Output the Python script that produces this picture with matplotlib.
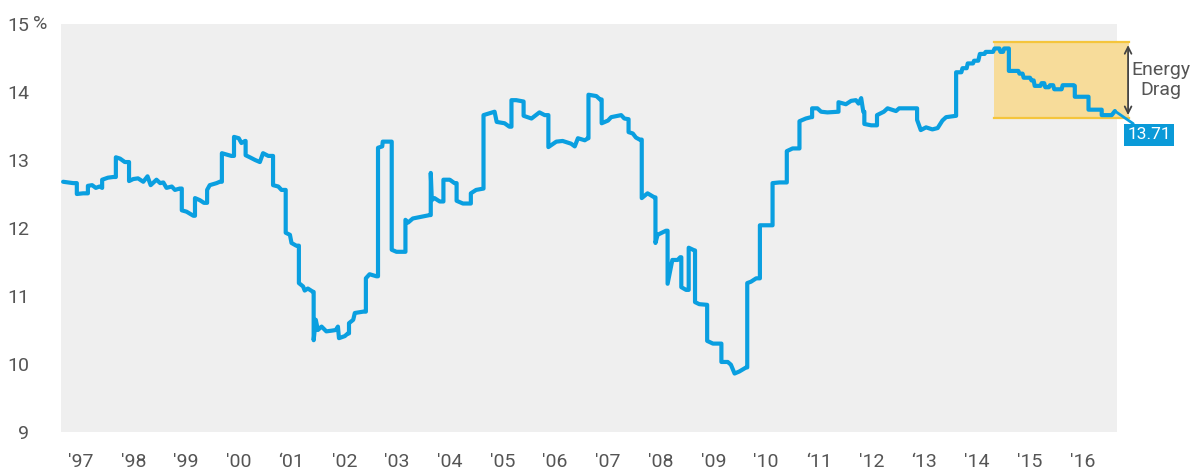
import matplotlib
matplotlib.use("Agg")
import matplotlib.pyplot as plt
from matplotlib.patches import Rectangle

# ---------------- data ----------------
years = [
    1996.67, 1996.86, 1996.93, 1996.93, 1997.05, 1997.14, 1997.14, 1997.22, 1997.29, 1997.36, 1997.41,
    1997.41, 1997.52, 1997.62, 1997.67, 1997.67, 1997.75, 1997.84, 1997.92, 1997.92, 1998.00, 1998.09,
    1998.19, 1998.27, 1998.33, 1998.44, 1998.51, 1998.57, 1998.63, 1998.73, 1998.79, 1998.88, 1998.92,
    1998.92, 1999.01, 1999.14, 1999.17, 1999.17, 1999.26, 1999.34, 1999.40, 1999.40, 1999.45, 1999.58,
    1999.64, 1999.68, 1999.68, 1999.77, 1999.86, 1999.91, 1999.91, 2000.00, 2000.05, 2000.12, 2000.13,
    2000.13, 2000.21, 2000.31, 2000.40, 2000.46, 2000.56, 2000.65, 2000.65, 2000.75, 2000.81, 2000.89,
    2000.89, 2000.97, 2001.00, 2001.09, 2001.14, 2001.14, 2001.22, 2001.25, 2001.31, 2001.41, 2001.42,
    2001.42, 2001.46, 2001.50, 2001.57, 2001.66, 2001.76, 2001.84, 2001.88, 2001.90, 2002.01, 2002.07,
    2002.09, 2002.09, 2002.17, 2002.20, 2002.36, 2002.41, 2002.41, 2002.48, 2002.61, 2002.64, 2002.64,
    2002.72, 2002.73, 2002.89, 2002.90, 2002.90, 2002.99, 2003.11, 2003.16, 2003.16, 2003.21, 2003.30,
    2003.49, 2003.62, 2003.64, 2003.64, 2003.66, 2003.71, 2003.81, 2003.88, 2003.88, 2004.00, 2004.09,
    2004.13, 2004.13, 2004.25, 2004.38, 2004.40, 2004.40, 2004.50, 2004.63, 2004.64, 2004.64, 2004.85,
    2004.89, 2005.04, 2005.13, 2005.17, 2005.17, 2005.26, 2005.39, 2005.40, 2005.40, 2005.55, 2005.70,
    2005.80, 2005.87, 2005.87, 2006.02, 2006.14, 2006.30, 2006.37, 2006.43, 2006.56, 2006.62, 2006.63,
    2006.63, 2006.78, 2006.85, 2006.88, 2006.88, 2007.00, 2007.06, 2007.25, 2007.31, 2007.38, 2007.39,
    2007.39, 2007.47, 2007.53, 2007.60, 2007.64, 2007.64, 2007.75, 2007.88, 2007.90, 2007.90, 2007.94,
    2008.10, 2008.13, 2008.13, 2008.22, 2008.32, 2008.37, 2008.39, 2008.39, 2008.48, 2008.53, 2008.53,
    2008.64, 2008.65, 2008.65, 2008.73, 2008.86, 2008.88, 2008.88, 2008.99, 2009.15, 2009.15, 2009.27,
    2009.33, 2009.40, 2009.49, 2009.62, 2009.64, 2009.64, 2009.71, 2009.81, 2009.88, 2009.88, 2009.96,
    2010.09, 2010.12, 2010.12, 2010.25, 2010.34, 2010.39, 2010.39, 2010.50, 2010.60, 2010.63, 2010.63,
    2010.75, 2010.85, 2010.87, 2010.87, 2010.97, 2011.04, 2011.16, 2011.35, 2011.37, 2011.37, 2011.51,
    2011.61, 2011.70, 2011.75, 2011.80, 2011.84, 2011.86, 2011.86, 2011.99, 2012.09, 2012.10, 2012.10,
    2012.23, 2012.30, 2012.46, 2012.52, 2012.77, 2012.84, 2012.86, 2012.86, 2012.93, 2013.03, 2013.15,
    2013.25, 2013.34, 2013.41, 2013.59, 2013.60, 2013.60, 2013.70, 2013.72, 2013.80, 2013.82, 2013.92,
    2013.94, 2014.02, 2014.05, 2014.14, 2014.16, 2014.30, 2014.33, 2014.42, 2014.44, 2014.49, 2014.51,
    2014.60, 2014.60, 2014.78, 2014.80, 2014.86, 2014.88, 2015.00, 2015.03, 2015.07, 2015.09, 2015.20,
    2015.22, 2015.27, 2015.29, 2015.36, 2015.38, 2015.44, 2015.46, 2015.60, 2015.62, 2015.83, 2015.85,
    2015.85, 2016.09, 2016.11, 2016.11, 2016.34, 2016.36, 2016.36, 2016.55, 2016.61,
]
values = [
    12.68, 12.66, 12.66, 12.50, 12.51, 12.51, 12.62, 12.63, 12.59, 12.61, 12.59,
    12.71, 12.74, 12.75, 12.75, 13.04, 13.02, 12.97, 12.97, 12.69, 12.72, 12.73,
    12.68, 12.76, 12.63, 12.71, 12.66, 12.67, 12.59, 12.61, 12.56, 12.58, 12.58,
    12.26, 12.24, 12.18, 12.18, 12.44, 12.41, 12.37, 12.37, 12.56, 12.63, 12.66,
    12.68, 12.68, 13.10, 13.08, 13.06, 13.06, 13.34, 13.32, 13.25, 13.28, 13.28,
    13.07, 13.04, 13.00, 12.97, 13.10, 13.06, 13.06, 12.63, 12.61, 12.56, 12.56,
    11.93, 11.90, 11.78, 11.74, 11.74, 11.19, 11.14, 11.08, 11.11, 11.06, 11.06,
    10.35, 10.65, 10.50, 10.55, 10.48, 10.49, 10.50, 10.55, 10.38, 10.41, 10.45,
    10.45, 10.60, 10.65, 10.75, 10.77, 10.77, 11.26, 11.32, 11.29, 11.29, 13.18,
    13.20, 13.27, 13.27, 13.27, 11.68, 11.65, 11.65, 11.65, 12.12, 12.08, 12.14,
    12.17, 12.19, 12.19, 12.81, 12.41, 12.44, 12.39, 12.39, 12.71, 12.71, 12.66,
    12.66, 12.40, 12.36, 12.36, 12.36, 12.51, 12.56, 12.58, 12.58, 13.66, 13.71,
    13.56, 13.54, 13.49, 13.49, 13.88, 13.88, 13.86, 13.86, 13.65, 13.61, 13.70,
    13.66, 13.66, 13.19, 13.27, 13.28, 13.24, 13.20, 13.32, 13.29, 13.32, 13.32,
    13.96, 13.94, 13.89, 13.89, 13.54, 13.58, 13.63, 13.66, 13.61, 13.60, 13.60,
    13.41, 13.39, 13.33, 13.30, 13.30, 12.44, 12.51, 12.45, 12.45, 11.78, 11.90,
    11.96, 11.96, 11.18, 11.53, 11.53, 11.57, 11.57, 11.13, 11.09, 11.09, 11.71,
    11.67, 11.67, 10.91, 10.88, 10.87, 10.87, 10.34, 10.30, 10.30, 10.03, 10.03,
    9.99, 9.86, 9.89, 9.95, 9.95, 11.19, 11.21, 11.26, 11.26, 12.04, 12.04,
    12.04, 12.04, 12.66, 12.67, 12.67, 12.67, 13.13, 13.17, 13.17, 13.17, 13.57,
    13.61, 13.63, 13.63, 13.76, 13.76, 13.71, 13.70, 13.71, 13.71, 13.85, 13.82,
    13.87, 13.88, 13.83, 13.91, 13.71, 13.71, 13.53, 13.51, 13.51, 13.51, 13.66,
    13.71, 13.76, 13.72, 13.76, 13.76, 13.76, 13.76, 13.59, 13.44, 13.48, 13.45,
    13.47, 13.58, 13.63, 13.65, 13.65, 14.29, 14.29, 14.35, 14.35, 14.42, 14.42,
    14.46, 14.46, 14.56, 14.56, 14.59, 14.59, 14.64, 14.64, 14.59, 14.59, 14.64,
    14.64, 14.31, 14.31, 14.27, 14.27, 14.21, 14.21, 14.17, 14.17, 14.09, 14.09,
    14.13, 14.13, 14.07, 14.07, 14.10, 14.10, 14.04, 14.04, 14.10, 14.10, 14.09,
    13.93, 13.93, 13.93, 13.74, 13.74, 13.74, 13.66, 13.66, 13.72,
]
year_ticks = list(range(1997, 2017))
year_labels = ["'97", "'98", "'99", "'00", "\u201801", "'02", "'03", "'04", "'05", "'06",
               "'07", "'08", "'09", "'10", "\u201811", "'12", "\u201813", "'14", "'15", "'16"]
y_ticks = [9, 10, 11, 12, 13, 14, 15]
drag_top, drag_bottom = 14.73, 13.62
drag_start, drag_end = 2014.32, 2016.88
last_label = "13.71"

# ---------------- style ----------------
FONT = ['Roboto', 'DejaVu Sans']
plt.rcParams['font.family'] = FONT
TXT = '#555555'
BLUE = '#0a9fe0'

fig = plt.figure(figsize=(11.91, 4.70), dpi=100)
ax = fig.add_axes([61/1191, 1-432/470, (1117-61)/1191, (432-24)/470])
ax.set_facecolor('#efefef')
for s in ax.spines.values():
    s.set_visible(False)

ax.set_xlim(1996.63, 2016.65)
ax.set_ylim(9, 15)

# energy drag shaded box
ax.add_patch(Rectangle((drag_start, drag_bottom), drag_end - drag_start, drag_top - drag_bottom,
                       facecolor='#f7dc9a', edgecolor='none', clip_on=False, zorder=1))
ax.plot([drag_start, drag_end], [drag_top, drag_top], color='#f5c53c', lw=1.6, clip_on=False, zorder=2)
ax.plot([drag_start, drag_end], [drag_bottom, drag_bottom], color='#f5c53c', lw=1.6, clip_on=False, zorder=2)

ax.plot(years, values, color=BLUE, lw=3.0, solid_joinstyle='round', solid_capstyle='round',
        zorder=3, clip_on=False)

# arrow
ax.annotate('', xy=(drag_end - 0.02, drag_top - 0.04), xytext=(drag_end - 0.02, drag_bottom + 0.04),
            arrowprops=dict(arrowstyle='<->', color='#444444', lw=1.3, shrinkA=0, shrinkB=0,
                            mutation_scale=12),
            annotation_clip=False)
ax.text(drag_end + 0.6, (drag_top + drag_bottom) / 2, 'Energy\nDrag', ha='center', va='center',
        fontsize=14, color=TXT, linespacing=1.15, clip_on=False)

# last value label
ax.annotate(last_label, xy=(years[-1], values[-1]), xytext=(9, -17), textcoords='offset points',
            ha='left', va='center', fontsize=12.5, color='white',
            bbox=dict(boxstyle='square,pad=0.2', fc='#0a9ad8', ec='none'),
            arrowprops=dict(arrowstyle='-', color=BLUE, lw=2.0, shrinkA=0, shrinkB=0),
            annotation_clip=False)

ax.set_yticks(y_ticks)
ax.set_yticklabels([str(v) for v in y_ticks])
ax.set_xticks(year_ticks)
ax.set_xticklabels(year_labels)
ax.tick_params(axis='y', length=0, pad=23, labelsize=14, labelcolor=TXT)
ax.tick_params(axis='x', length=0, pad=15, labelsize=14, labelcolor=TXT)
for lab in ax.get_yticklabels():
    lab.set_horizontalalignment('right')

ax.annotate('%', xy=(0, 15), xycoords=('axes fraction', 'data'), xytext=(-20.5, 0),
            textcoords='offset points', ha='left', va='center', fontsize=14, color=TXT,
            annotation_clip=False)

fig.savefig('out.png', dpi=100)
